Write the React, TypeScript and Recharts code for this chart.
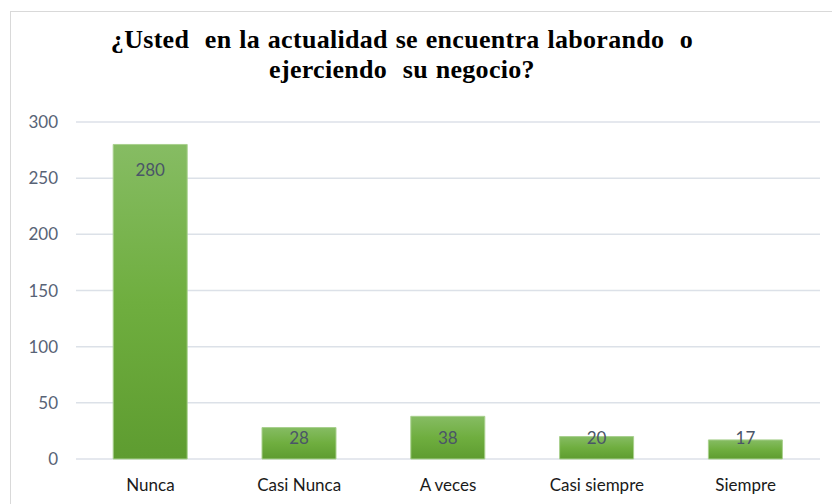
import React from "react";
import { BarChart, Bar, XAxis, YAxis, CartesianGrid, LabelList } from "recharts";

const categories = ["Nunca", "Casi Nunca", "A veces", "Casi siempre", "Siempre"];
const counts = [280, 28, 38, 20, 17];
const yTicks = [0, 50, 100, 150, 200, 250, 300];
const titleLines = ["¿Usted  en la actualidad se encuentra laborando  o", "ejerciendo  su negocio?"];

const data = categories.map((c, i) => ({ name: c, value: counts[i] }));

const FONT = "Lato, 'Open Sans', sans-serif";

const BarLabel = (props: any) => {
  const { x, y, width, height, value } = props;
  const cy = Math.min(y + 25, y + height - 22);
  return (
    <text
      x={x + width / 2}
      y={cy}
      textAnchor="middle"
      dominantBaseline="central"
      fill="#4A5568"
      fontSize={17}
      fontFamily={FONT}
    >
      {value}
    </text>
  );
};

export default function App() {
  return (
    <div style={{ position: "absolute", left: 0, top: 0, width: 832, height: 504, overflow: "hidden", background: "#fff" }}>
      <div style={{ position: "absolute", left: 10, top: 11, width: 840, height: 520, border: "1px solid #D9D9D9", boxSizing: "border-box" }} />
      <div
        style={{
          position: "absolute",
          left: 0,
          top: 25,
          width: 804,
          textAlign: "center",
          fontFamily: "'Liberation Serif', 'Times New Roman', serif",
          fontWeight: 700,
          fontSize: 26,
          letterSpacing: 0.3,
          wordSpacing: 1,
          lineHeight: "30px",
          color: "#000",
          whiteSpace: "pre",
        }}
      >
        {titleLines.map((l, i) => (
          <div key={i}>{l}</div>
        ))}
      </div>
      <div style={{ position: "absolute", left: 0, top: 0 }}>
        <BarChart width={832} height={504} data={data} margin={{ top: 122, right: 12, bottom: 0, left: 0 }} barCategoryGap="25%">
          <defs>
            <linearGradient id="barGrad" x1="0" y1="0" x2="0" y2="1">
              <stop offset="0%" stopColor="#86BC63" />
              <stop offset="50%" stopColor="#6FAE3F" />
              <stop offset="100%" stopColor="#5E9C30" />
            </linearGradient>
          </defs>
          <CartesianGrid vertical={false} stroke="#DCE1E8" strokeWidth={1.5} />
          <XAxis
            dataKey="name"
            axisLine={false}
            tickLine={false}
            tickSize={0}
            tickMargin={20}
            height={45}
            interval={0}
            tick={{ fill: "#1A1A1A", fontSize: 17, fontFamily: FONT }}
          />
          <YAxis
            domain={[0, 300]}
            ticks={yTicks}
            axisLine={false}
            tickLine={false}
            tickSize={0}
            tickMargin={18}
            width={76}
            tick={{ fill: "#586376", fontSize: 17, fontFamily: FONT }}
          />
          <Bar dataKey="value" fill="url(#barGrad)" stroke="#A9D08E" strokeWidth={1} isAnimationActive={false}>
            <LabelList dataKey="value" content={<BarLabel />} />
          </Bar>
        </BarChart>
      </div>
    </div>
  );
}
